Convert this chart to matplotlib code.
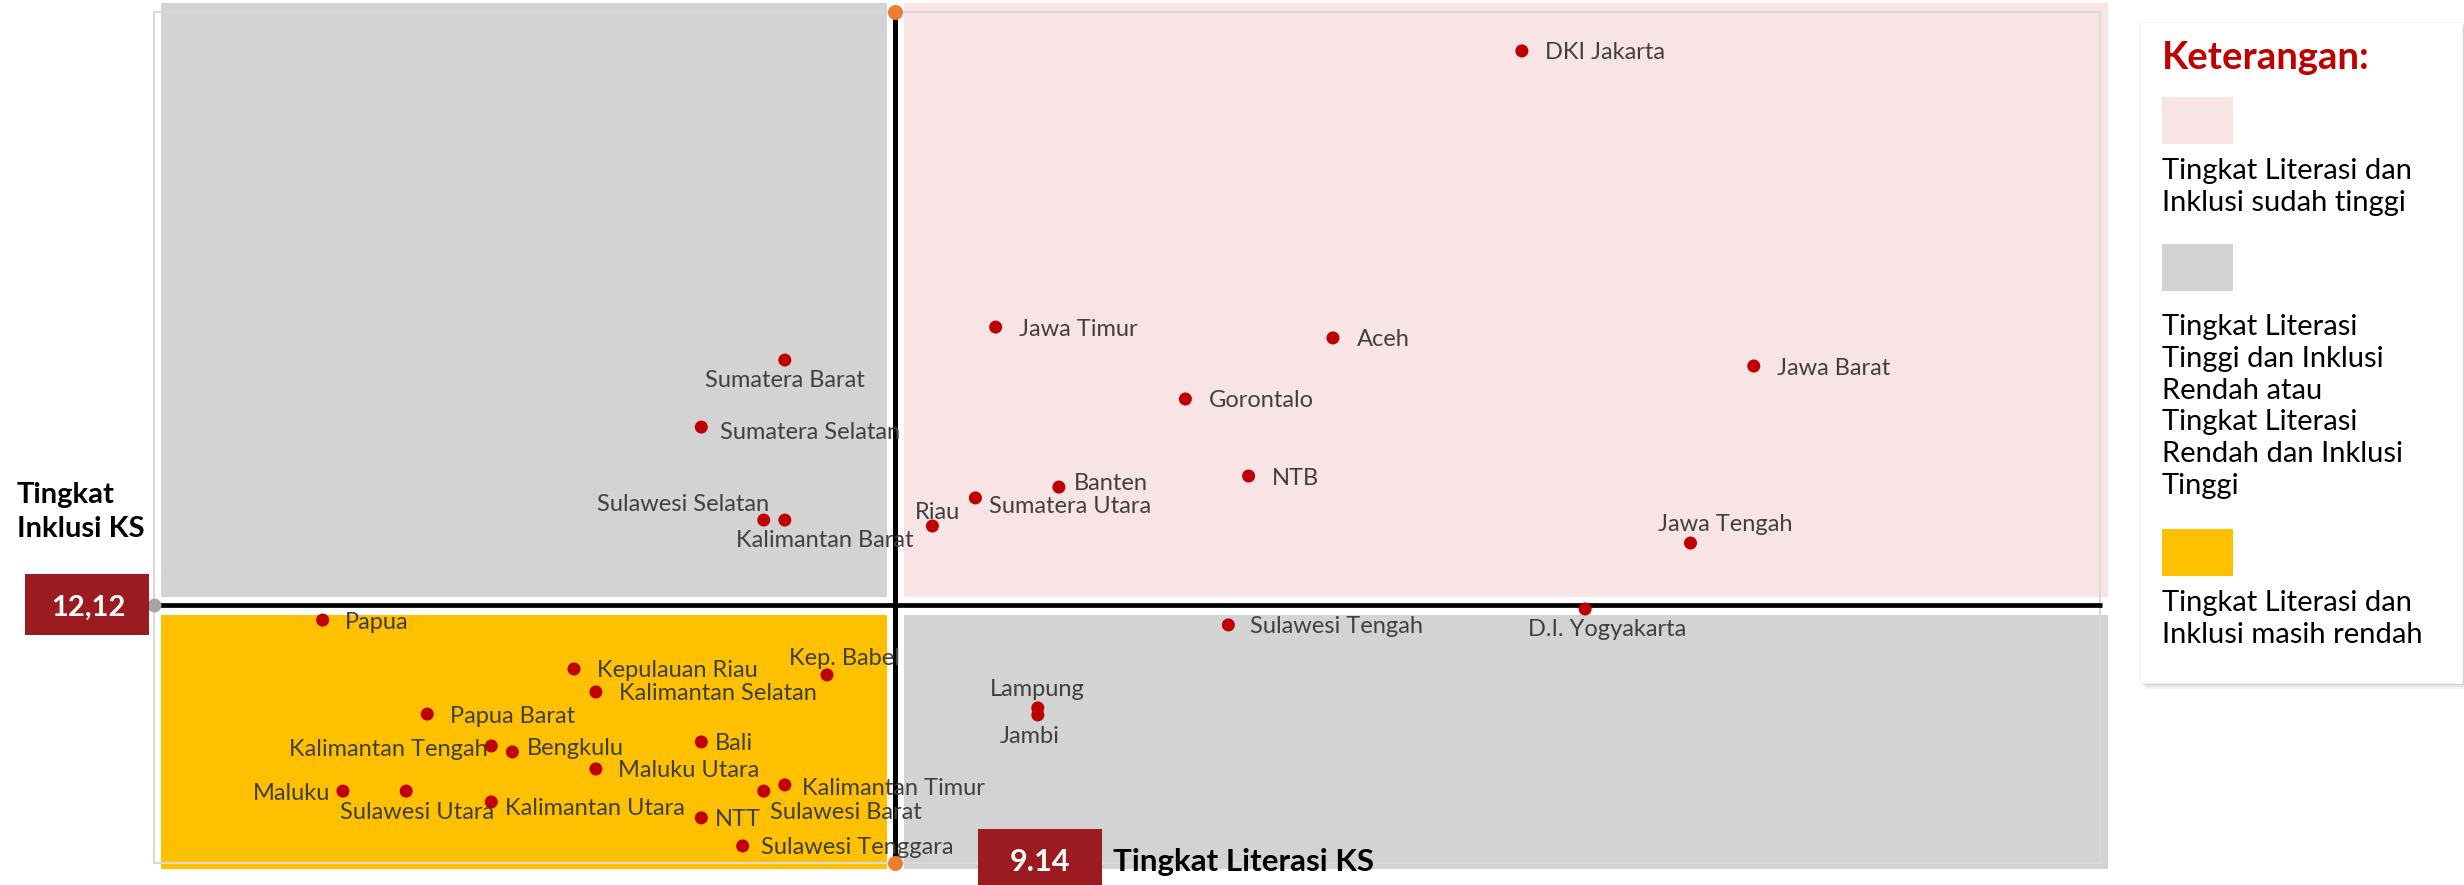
import matplotlib
matplotlib.use("Agg")
import matplotlib.pyplot as plt
from matplotlib.patches import Rectangle

W, H = 2464, 885

# ---------------- data ----------------
provinsi = ["DKI Jakarta", "Jawa Timur", "Aceh", "Jawa Barat", "Gorontalo", "NTB", "Banten",
            "Sumatera Utara", "Riau", "Jawa Tengah", "D.I. Yogyakarta", "Sumatera Barat",
            "Sumatera Selatan", "Sulawesi Selatan", "Kalimantan Barat", "Sulawesi Tengah",
            "Lampung", "Jambi", "Papua", "Kepulauan Riau", "Kep. Babel", "Kalimantan Selatan",
            "Papua Barat", "Kalimantan Tengah", "Bengkulu", "Bali", "Maluku Utara", "Maluku",
            "Sulawesi Utara", "Kalimantan Utara", "NTT", "Sulawesi Barat", "Kalimantan Timur",
            "Sulawesi Tenggara"]
literasi = [16.87, 10.38, 14.54, 19.73, 12.72, 13.50, 11.16, 10.13, 9.60, 18.95, 17.65, 7.78,
            6.75, 7.52, 7.78, 13.25, 10.90, 10.90, 2.08, 5.18, 8.30, 5.45, 3.37, 4.16, 4.42, 6.75,
            5.45, 2.33, 3.11, 4.16, 6.75, 7.52, 7.78, 7.26]
inklusi = [38.17, 25.19, 24.68, 23.36, 21.81, 18.19, 17.67, 17.16, 15.84, 15.04, 11.94, 23.64,
           20.49, 16.12, 16.12, 11.19, 7.29, 6.96, 11.42, 9.12, 8.84, 8.04, 7.00, 5.50, 5.22, 5.69,
           4.42, 3.38, 3.38, 2.87, 2.12, 3.38, 3.67, 0.80]
ambang_literasi = 9.14
ambang_inklusi = 12.12
label_literasi = "9.14"
label_inklusi = "12,12"
x_range = (0, 24)
y_range = (0, 40)

legend_title = "Keterangan:"
legend_items = [
    ["Tingkat Literasi dan", "Inklusi sudah tinggi"],
    ["Tingkat Literasi", "Tinggi dan Inklusi", "Rendah atau", "Tingkat Literasi",
     "Rendah dan Inklusi", "Tinggi"],
    ["Tingkat Literasi dan", "Inklusi masih rendah"],
]

# ---------------- styles ----------------
PINK = "#F9E4E5"
GRAY = "#D3D3D3"
YELLOW = "#FFC000"
DOT = "#C00000"
TXT = "#404040"
BOX = "#9B1B20"
ORANGE = "#ED7D31"

# label placement relative to the dot (pixels): dx, dy (cap-centre), ha
label_pos = {
    "DKI Jakarta": (23, 0, "left"), "Jawa Timur": (23, 0, "left"), "Aceh": (24, 0, "left"),
    "Jawa Barat": (23, 0, "left"), "Gorontalo": (23, 0, "left"), "NTB": (23, 0, "left"),
    "Banten": (15, 6, "left"), "Sumatera Utara": (14, -7, "left"), "Riau": (5, 16, "center"),
    "Jawa Tengah": (35, 21, "center"), "D.I. Yogyakarta": (22, -19, "center"),
    "Sumatera Barat": (0, -18, "center"), "Sumatera Selatan": (19, -3, "left"),
    "Sulawesi Selatan": (5, 18, "right"), "Kalimantan Barat": (40, -18, "center"),
    "Sulawesi Tengah": (22, 0, "left"), "Lampung": (0, 20, "center"), "Jambi": (-8, -20, "center"),
    "Papua": (22, 0, "left"), "Kepulauan Riau": (23, 0, "left"), "Kep. Babel": (17, 18, "center"),
    "Kalimantan Selatan": (23, 0, "left"), "Papua Barat": (23, 0, "left"),
    "Kalimantan Tengah": (-4, -2, "right"), "Bengkulu": (14, 5, "left"), "Bali": (14, 0, "left"),
    "Maluku Utara": (22, 0, "left"), "Maluku": (-13, 0, "right"),
    "Sulawesi Utara": (11, -19, "center"), "Kalimantan Utara": (14, -5, "left"),
    "NTT": (14, 0, "left"), "Sulawesi Barat": (6, -19, "left"),
    "Kalimantan Timur": (17, -2, "left"), "Sulawesi Tenggara": (18, 0, "left"),
}

fig = plt.figure(figsize=(W / 100, H / 100), dpi=100)
fig.patch.set_facecolor("white")

ax_l, ax_r, ax_t, ax_b = 154, 2100, 12, 863
ax = fig.add_axes([ax_l / W, 1 - ax_b / H, (ax_r - ax_l) / W, (ax_b - ax_t) / H])
ax.set_xlim(*x_range)
ax.set_ylim(*y_range)
ax.set_xticks([])
ax.set_yticks([])
ax.set_facecolor("none")
for s in ax.spines.values():
    s.set_color("#D9D9D9")
    s.set_linewidth(1.5)

# quadrant backgrounds
x0, x1 = x_range[0] + 0.086, x_range[1] + 0.10
y0, y1 = y_range[0] - 0.28, y_range[1] + 0.40
gxl, gxr, gyt, gyb = 0.10, 0.11, 0.38, 0.46
quads = [
    (x0, ambang_inklusi + gyt, ambang_literasi - gxl, y1, GRAY),
    (ambang_literasi + gxr, ambang_inklusi + gyt, x1, y1, PINK),
    (x0, y0, ambang_literasi - gxl, ambang_inklusi - gyb, YELLOW),
    (ambang_literasi + gxr, y0, x1, ambang_inklusi - gyb, GRAY),
]
for a, b, c, d, col in quads:
    ax.add_patch(Rectangle((a, b), c - a, d - b, facecolor=col, edgecolor="none",
                           zorder=0, clip_on=False))

# threshold lines
ax.plot([ambang_literasi, ambang_literasi], [y_range[0], y_range[1]], color="black",
        lw=3.6, zorder=3, clip_on=False, solid_capstyle="butt")
ax.plot([x_range[0], x_range[1] + 0.02], [ambang_inklusi, ambang_inklusi], color="black",
        lw=3.4, zorder=3, clip_on=False, solid_capstyle="butt")
ax.plot([ambang_literasi, ambang_literasi], [y_range[0], y_range[1]], "o", color=ORANGE,
        ms=10.8, mec="none", zorder=5, clip_on=False)
ax.plot([x_range[0]], [ambang_inklusi], "o", color="#A6A6A6", ms=10, mec="none",
        zorder=5, clip_on=False)

# points
ax.scatter(literasi, inklusi, s=88, color=DOT, edgecolor="none", zorder=4, clip_on=False)
for name, xv, yv in zip(provinsi, literasi, inklusi):
    dx, dy, ha = label_pos[name]
    ax.annotate(name, (xv, yv), xytext=(dx, dy - 8.5), textcoords="offset pixels",
                ha=ha, va="baseline", fontsize=17, family="Lato", color=TXT, zorder=6)


# ---------------- figure-level decorations ----------------
def frect(x, y, w, h, **kw):
    r = Rectangle((x / W, 1 - (y + h) / H), w / W, h / H, transform=fig.transFigure, **kw)
    fig.add_artist(r)
    return r


def ftext(x, y, s, **kw):
    return fig.text(x / W, 1 - y / H, s, va="baseline", **kw)


# axis titles
ftext(17, 503, "Tingkat", fontsize=21, family="Lato", weight="bold", color="black")
ftext(17, 537, "Inklusi KS", fontsize=21, family="Lato", weight="bold", color="black")
frect(25, 574, 124, 61, facecolor=BOX, edgecolor="none")
ftext(88.5, 616, label_inklusi, fontsize=21, family="Lato", weight="bold", color="white",
      ha="center")

frect(978, 829, 124, 60, facecolor=BOX, edgecolor="none")
ftext(1040, 871, label_literasi, fontsize=22, family="Lato", weight="bold", color="white",
      ha="center")
ftext(1113, 871, "Tingkat Literasi KS", fontsize=22.5, family="Lato", weight="bold",
      color="black")

# legend box with shadow
bx, by, bw, bh = 2140, 22, 322, 661
for i, al in enumerate([0.08, 0.12, 0.18]):
    off = 6 - 2 * i
    frect(bx + off, by + off, bw + 2, bh, facecolor="#7F7F7F", edgecolor="none", alpha=al)
frect(bx, by, bw, bh, facecolor="white", edgecolor="#F2F2F2", lw=0.8)
ftext(2162, 69, legend_title, fontsize=27.5, family="Lato", weight="bold", color=DOT)

swatch_y = [97, 244, 529]
text_base = [179.5, 335, 611.5]
for col, sy, tb, lines in zip([PINK, GRAY, YELLOW], swatch_y, text_base, legend_items):
    frect(2162, sy, 71, 47, facecolor=col, edgecolor="none")
    for k, ln in enumerate(lines):
        ftext(2162, tb + 31.8 * k, ln, fontsize=21, family="Lato", color="black")

fig.savefig("out.png", dpi=100, facecolor="white")
